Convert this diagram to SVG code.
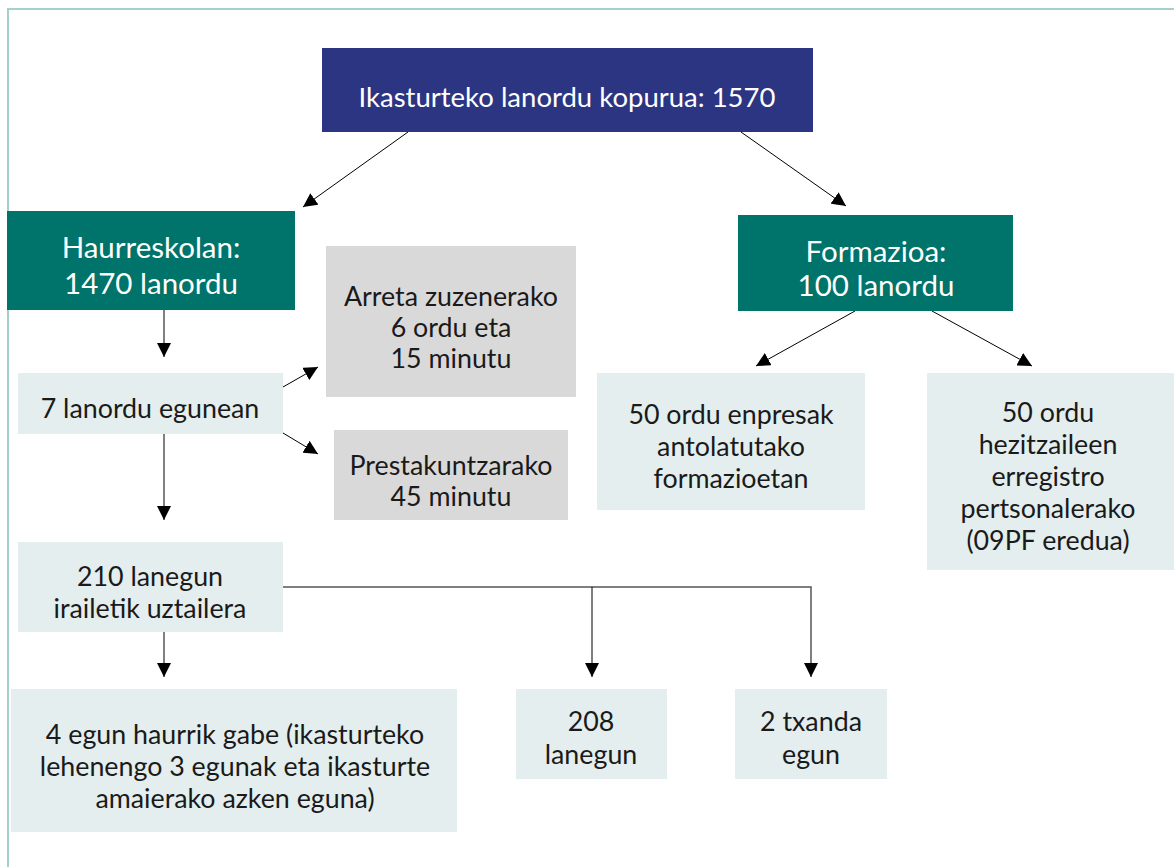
<svg xmlns="http://www.w3.org/2000/svg" width="1174" height="867" viewBox="0 0 1174 867">
<style>
text{font-family:Lato,"Open Sans",sans-serif;text-anchor:middle}
.w{fill:#ffffff}
.k{fill:#1a1a1a;font-size:26.8px}
.big{font-size:29.5px}
.mid{font-size:27.5px}
.navy{fill:#2b3582}
.teal{fill:#00736a}
.gray{fill:#d9d9d9}
.light{fill:#e4eeee}
.c{stroke:#000;stroke-width:1;fill:none}
</style>
<defs>
<marker id="ah" viewBox="0 0 10 10" refX="10" refY="5" markerWidth="14" markerHeight="14" markerUnits="userSpaceOnUse" orient="auto">
<path d="M0,0 L10,5 L0,10 z" fill="#000"/>
</marker>
</defs>
<rect width="1174" height="867" fill="#fff"/>
<rect x="8" y="9" width="1180" height="880" fill="none" stroke="#a6d0cb" stroke-width="2"/>

<g id="connectors">
<line class="c" x1="408" y1="132" x2="303" y2="207" marker-end="url(#ah)"/>
<line class="c" x1="741" y1="132" x2="846" y2="206" marker-end="url(#ah)"/>
<line class="c" x1="164" y1="310" x2="164" y2="357" marker-end="url(#ah)"/>
<line class="c" x1="164" y1="434" x2="164" y2="520" marker-end="url(#ah)"/>
<line class="c" x1="283" y1="387" x2="318" y2="367" marker-end="url(#ah)"/>
<line class="c" x1="283" y1="433" x2="318" y2="454" marker-end="url(#ah)"/>
<line class="c" x1="855" y1="311" x2="756" y2="366" marker-end="url(#ah)"/>
<line class="c" x1="932" y1="311" x2="1032" y2="366" marker-end="url(#ah)"/>
<line class="c" x1="164" y1="632" x2="164" y2="677" marker-end="url(#ah)"/>
<path d="M283,587 H811 V677" fill="none" stroke="#555" stroke-width="1.5" marker-end="url(#ah)"/>
<line class="c" x1="592" y1="587" x2="592" y2="677" marker-end="url(#ah)"/>
</g>

<g id="n-top">
<rect class="navy" x="322" y="48" width="491" height="84"/>
<text class="w mid" x="567" y="107">Ikasturteko lanordu kopurua: 1570</text>
</g>
<g id="n-haurreskolan">
<rect class="teal" x="7" y="211" width="288" height="99"/>
<text class="w big" x="151" y="258">Haurreskolan:</text>
<text class="w big" x="151" y="294">1470 lanordu</text>
</g>
<g id="n-formazioa">
<rect class="teal" x="738" y="215" width="275" height="96"/>
<text class="w big" x="876" y="262">Formazioa:</text>
<text class="w big" x="876" y="296">100 lanordu</text>
</g>
<g id="n-arreta">
<rect class="gray" x="326" y="246" width="250" height="151"/>
<text class="k" x="451" y="306">Arreta zuzenerako</text>
<text class="k" x="451" y="337">6 ordu eta</text>
<text class="k" x="451" y="368">15 minutu</text>
</g>
<g id="n-prest">
<rect class="gray" x="334" y="430" width="234" height="90"/>
<text class="k" x="451" y="475">Prestakuntzarako</text>
<text class="k" x="451" y="506">45 minutu</text>
</g>
<g id="n-7lanordu">
<rect class="light" x="18" y="373" width="265" height="61"/>
<text class="k" x="150" y="418">7 lanordu egunean</text>
</g>
<g id="n-enpresak">
<rect class="light" x="597" y="373" width="268" height="137"/>
<text class="k" x="731" y="424">50 ordu enpresak</text>
<text class="k" x="731" y="456">antolatutako</text>
<text class="k" x="731" y="488">formazioetan</text>
</g>
<g id="n-hezitzaileen">
<rect class="light" x="927" y="373" width="247" height="197"/>
<text class="k" x="1048" y="422">50 ordu</text>
<text class="k" x="1048" y="454">hezitzaileen</text>
<text class="k" x="1048" y="486">erregistro</text>
<text class="k" x="1048" y="518">pertsonalerako</text>
<text class="k" x="1048" y="550">(09PF eredua)</text>
</g>
<g id="n-210">
<rect class="light" x="18" y="542" width="265" height="90"/>
<text class="k" x="150" y="586">210 lanegun</text>
<text class="k" x="150" y="618">irailetik uztailera</text>
</g>
<g id="n-4egun">
<rect class="light" x="11" y="689" width="446" height="143"/>
<text class="k" x="235" y="744">4 egun haurrik gabe (ikasturteko</text>
<text class="k" x="235" y="776">lehenengo 3 egunak eta ikasturte</text>
<text class="k" x="235" y="808">amaierako azken eguna)</text>
</g>
<g id="n-208">
<rect class="light" x="516" y="689" width="151" height="90"/>
<text class="k" x="591" y="731">208</text>
<text class="k" x="591" y="764">lanegun</text>
</g>
<g id="n-2txanda">
<rect class="light" x="735" y="689" width="152" height="90"/>
<text class="k" x="811" y="731">2 txanda</text>
<text class="k" x="811" y="764">egun</text>
</g>
</svg>
